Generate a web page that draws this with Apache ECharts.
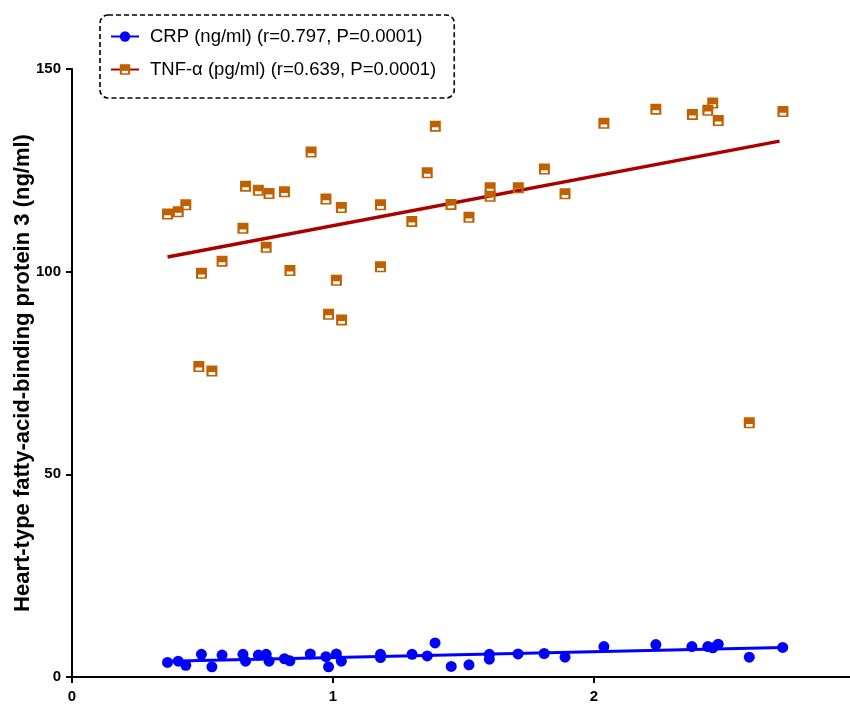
<!DOCTYPE html>
<html><head><meta charset="utf-8">
<script src="https://cdn.jsdelivr.net/npm/echarts@6/dist/echarts.min.js"></script>
<style>html,body{margin:0;padding:0;background:#fff}#c{width:850px;height:704px}</style>
</head><body><div id="c"></div>
<script>
var crpName = 'CRP (ng/ml) (r=0.797, P=0.0001)';
var tnfName = 'TNF-\u03b1 (pg/ml) (r=0.639, P=0.0001)';
var yTitle = 'Heart-type fatty-acid-binding protein 3 (ng/ml)';

var crpX = [0.366,0.407,0.436,0.496,0.536,0.575,0.655,0.665,0.714,0.744,0.755,0.814,0.835,0.913,0.973,0.983,1.013,1.032,1.182,1.182,1.303,1.361,1.391,1.453,1.521,1.599,1.599,1.709,1.809,1.889,2.038,2.237,2.375,2.436,2.455,2.476,2.595,2.723];
var crpY = [3.6,3.9,2.9,5.6,2.5,5.4,5.6,3.9,5.4,5.6,3.9,4.5,4.0,5.7,5.0,2.5,5.7,3.9,5.6,4.8,5.6,5.2,8.4,2.6,3.0,5.6,4.4,5.7,5.8,4.9,7.5,8.0,7.5,7.5,7.2,8.1,4.9,7.3];

var tnfX = [0.366,0.407,0.436,0.665,0.714,0.755,0.814,0.973,1.032,1.182,0.655,0.744,0.575,0.496,0.835,1.013,1.182,0.983,1.033,0.486,0.536,0.916,1.392,1.361,1.302,1.452,1.521,1.602,1.602,1.710,1.810,1.889,2.038,2.237,2.377,2.436,2.455,2.476,2.724,2.595];
var tnfY = [114.2,114.8,116.5,121.1,120.1,119.3,119.7,117.9,115.8,116.5,110.7,106.0,102.6,99.6,100.3,97.9,101.2,89.5,88.1,76.6,75.5,129.5,135.9,124.4,112.4,116.6,113.4,120.7,118.6,120.7,125.3,119.2,136.6,140.1,138.8,139.8,141.6,137.3,139.5,62.7];

var crpFitX = [0.366, 2.723];
var crpFitY = [3.9, 7.3];
var tnfFitX = [0.366, 2.711];
var tnfFitY = [103.6, 132.2];

var xTicks = [0, 1, 2];
var yTicks = [0, 50, 100, 150];

function pairs(xs, ys){ return xs.map(function(x,i){ return [x, ys[i]]; }); }

var tnfSymbol = 'path://M0,0 H10 V10 H0 Z M2,6 V8.6 H8 V6 Z';
var font = 'Liberation Sans, Arial, Helvetica, sans-serif';
var narrow = 'Liberation Sans Narrow, Arial Narrow, Liberation Sans, sans-serif';

var chart = echarts.init(document.getElementById('c'), null, {renderer:'canvas'});
chart.setOption({
  animation: false,
  backgroundColor: '#fff',
  grid: { left: 72, width: 783, top: 69, bottom: 27, containLabel: false, outerBoundsMode: 'none' },
  legend: {
    left: 100, top: 15, orient: 'vertical',
    data: [crpName, tnfName],
    itemWidth: 28, itemHeight: 13, itemGap: 14,
    padding: [12, 18, 19, 10],
    borderColor: '#000', borderWidth: 1.6, borderType: [5, 3], borderRadius: 8,
    textStyle: { fontFamily: font, fontSize: 18.5, color: '#000', padding: [0,0,0,6] }
  },
  xAxis: {
    type: 'value', min: 0, max: 3, interval: 1,
    splitLine: { show: false },
    axisLine: { lineStyle: { color: '#000', width: 2 } },
    axisTick: { lineStyle: { color: '#000', width: 2 }, length: 6 },
    axisLabel: { fontFamily: narrow, fontWeight: 'bold', fontSize: 15, color: '#000', margin: 12,
      formatter: function(v){ return xTicks.indexOf(v) >= 0 ? String(v) : ''; } }
  },
  yAxis: {
    type: 'value', min: 0, max: 150, interval: 50,
    name: yTitle, nameLocation: 'middle', nameGap: 38, nameMoveOverlap: false,
    nameTextStyle: { fontFamily: font, fontWeight: 'bold', fontSize: 22, color: '#000' },
    splitLine: { show: false },
    axisLine: { show: true, lineStyle: { color: '#000', width: 2 } },
    axisTick: { show: true, lineStyle: { color: '#000', width: 2 }, length: 6 },
    axisLabel: { fontFamily: narrow, fontWeight: 'bold', fontSize: 15, color: '#000', margin: 11,
      formatter: function(v){ return yTicks.indexOf(v) >= 0 ? String(v) : ''; } }
  },
  series: [
    { name: crpName, type: 'line', data: pairs(crpFitX, crpFitY), showSymbol: false, symbol: 'circle',
      lineStyle: { color: '#0000ff', width: 3 }, itemStyle: { color: '#0000ff' }, z: 3 },
    { name: tnfName, type: 'line', data: pairs(tnfFitX, tnfFitY), showSymbol: false, symbol: tnfSymbol,
      lineStyle: { color: '#aa0000', width: 3.5 }, itemStyle: { color: '#c06000' }, z: 3 },
    { name: crpName, type: 'scatter', data: pairs(crpX, crpY), symbol: 'circle', symbolSize: 11,
      itemStyle: { color: '#0000ff', opacity: 1 }, z: 4 },
    { name: tnfName, type: 'scatter', data: pairs(tnfX, tnfY), symbol: tnfSymbol, symbolSize: [11, 11],
      itemStyle: { color: '#c06000', opacity: 1 }, z: 4 }
  ]
});
</script></body></html>
